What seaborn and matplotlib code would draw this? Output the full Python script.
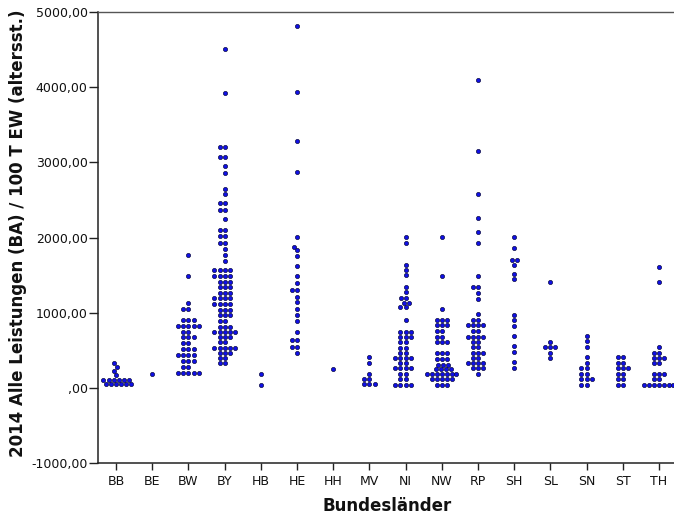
import matplotlib
matplotlib.use("Agg")
import matplotlib.pyplot as plt
from matplotlib.ticker import FuncFormatter, FixedLocator
import pandas as pd
import seaborn as sns

# Bundesländer in axis order
states = ["BB", "BE", "BW", "BY", "HB", "HE", "HH", "MV",
          "NI", "NW", "RP", "SH", "SL", "SN", "ST", "TH"]

# 2014 Alle Leistungen (BA) je 100 T EW, altersstandardisiert, one value per Kreis
BB = [333, 280, 227, 170,
      104, 104, 104, 104, 104, 104,
      47, 47, 47, 47, 47, 47]
BE = [183]
BW = [1762, 1487, 1124, 1044, 1044, 902, 902, 902,
      822, 822, 822, 822, 822, 746, 746, 672, 672, 672,
      592, 592, 516, 516, 516, 436, 436, 436, 436,
      360, 360, 360, 281, 281, 193, 193, 193, 193, 193]
BY = [4502, 3917, 3207, 3207, 3074, 3074, 2950, 2861, 2640, 2573,
      2462, 2462, 2365, 2365, 2241, 2099, 2099, 2019, 2019,
      1922, 1922, 1846, 1766, 1690,
      1567, 1567, 1567, 1567, 1491, 1491, 1491, 1491,
      1411, 1411, 1411, 1345, 1345, 1345, 1265, 1265, 1265,
      1190, 1190, 1190, 1190, 1115, 1115, 1115, 1115,
      1035, 1035, 1035, 968, 968, 968, 892, 892,
      813, 813, 813, 746, 746, 746, 746, 746, 672, 672, 672,
      605, 605, 533, 533, 533, 533, 533, 467, 467, 467,
      392, 392, 326, 326]
HB = [180, 37]
HE = [4820, 3930, 3290, 2870, 2010, 1880, 1832, 1752, 1619, 1486,
      1389, 1300, 1300, 1211, 1144, 1043, 968, 892, 746,
      636, 636, 539, 539, 459]
HH = [250]
MV = [410, 330, 183, 113, 113, 47, 47, 47]
NI = [2010, 1922, 1633, 1567, 1500, 1345, 1278, 1190, 1190,
      1132, 1132, 1071, 1071, 902, 746, 746, 746, 680, 680, 680,
      613, 613, 533, 533, 467, 467, 400, 400, 400, 400, 326, 326,
      259, 259, 259, 259, 183, 183, 113, 113, 37, 37, 37, 37]
NW = [2010, 1487, 1044, 902, 902, 902, 835, 835, 835, 755, 755,
      680, 680, 613, 613, 613, 459, 459, 459, 379, 379, 379,
      303, 303, 303, 246, 246, 246, 246,
      183, 183, 183, 183, 183, 183, 183,
      113, 113, 113, 113, 113, 37, 37, 37]
RP = [4094, 3150, 2573, 2254, 2077, 1930, 1487, 1345, 1345, 1257, 1181,
      981, 902, 902, 835, 835, 835, 835, 759, 759, 680, 680, 680, 680,
      613, 613, 539, 539, 467, 467, 467, 392, 392,
      326, 326, 326, 326, 259, 259, 259, 183]
SH = [2010, 1855, 1700, 1700, 1640, 1520, 1445, 975, 902, 822,
      685, 550, 480, 345, 270]
SL = [1403, 613, 539, 539, 539, 467, 392]
SN = [689, 622, 539, 405, 334, 259, 259, 183, 183, 113, 113, 113, 37, 37]
ST = [405, 405, 334, 334, 259, 259, 259, 183, 183, 113, 113, 37, 37]
TH = [1611, 1403, 539, 467, 467, 400, 400, 400, 334, 334,
      183, 183, 183, 113, 113, 37, 37, 37, 37, 37, 37, 37]

series = [BB, BE, BW, BY, HB, HE, HH, MV, NI, NW, RP, SH, SL, SN, ST, TH]
df = pd.DataFrame({
    "Bundesland": [s for s, vals in zip(states, series) for _ in vals],
    "Wert": [v for vals in series for v in vals],
})

y_ticks = [-1000, 0, 1000, 2000, 3000, 4000, 5000]

sns.set_style("white")
plt.rcParams["font.family"] = ["DejaVu Sans"]

fig = plt.figure(figsize=(6.74, 5.21), dpi=100)
ax = fig.add_axes([98 / 674, 58 / 521, 579 / 674, 451 / 521])

sns.swarmplot(data=df, x="Bundesland", y="Wert", order=states,
              color="#1010e6", size=3.0, edgecolor="#0a0a40",
              linewidth=0.5, warn_thresh=1.0, ax=ax)

ax.set_xlim(-0.5, len(states) - 0.5)
ax.set_ylim(-1000, 5000)
ax.yaxis.set_major_locator(FixedLocator(y_ticks))


def de_fmt(v, pos):
    if v == 0:
        return ",00"
    return f"{v:.2f}".replace(".", ",")


ax.yaxis.set_major_formatter(FuncFormatter(de_fmt))

for side in ["left", "bottom"]:
    ax.spines[side].set_color("#222222")
    ax.spines[side].set_linewidth(1.1)
ax.spines["top"].set_color("#555555")
ax.spines["top"].set_linewidth(1.0)
ax.spines["right"].set_visible(False)

ax.tick_params(axis="y", direction="out", length=6.5, width=1, color="#222222",
               pad=1, labelsize=9, labelcolor="#111111", left=True)
ax.tick_params(axis="x", direction="out", length=5, width=1, color="#222222",
               pad=3.5, labelsize=9, labelcolor="#111111", bottom=True)

ax.set_ylabel("2014 Alle Leistungen (BA) / 100 T EW (altersst.)",
              fontsize=12, fontweight="bold", color="#111111")
ax.set_xlabel("Bundesländer", fontsize=12, fontweight="bold", color="#111111")
ax.yaxis.set_label_coords(-0.122, 0.51)
ax.xaxis.set_label_coords(0.5, -0.075)

fig.savefig("out.png", dpi=100, facecolor="white")
